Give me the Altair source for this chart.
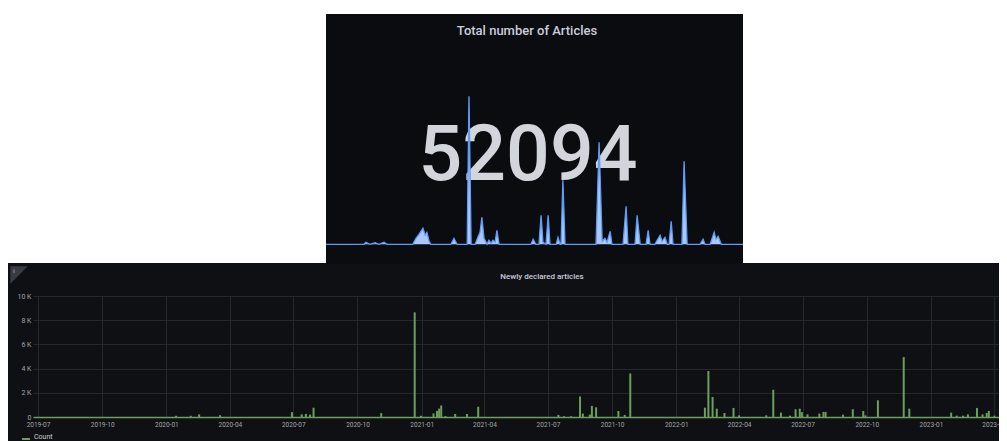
import altair as alt
import pandas as pd

# ---------------- data ----------------
# "Newly declared articles" (bar chart)
bar_dates = [
    "2020-01-15", "2020-02-05", "2020-02-17", "2020-03-18", "2020-06-29",
    "2020-07-13", "2020-07-19", "2020-07-25", "2020-07-30", "2020-11-04",
    "2020-12-22", "2020-12-31", "2021-01-18", "2021-01-23", "2021-01-26",
    "2021-01-29", "2021-02-04", "2021-02-18", "2021-03-07", "2021-03-23",
    "2021-07-16", "2021-07-24", "2021-08-03", "2021-08-16", "2021-08-20",
    "2021-08-30", "2021-09-02", "2021-09-08", "2021-10-10", "2021-10-19",
    "2021-10-27", "2022-02-11", "2022-02-16", "2022-02-22", "2022-02-28",
    "2022-03-11", "2022-03-24", "2022-04-01", "2022-05-10", "2022-05-20",
    "2022-05-31", "2022-06-13", "2022-06-21", "2022-06-27", "2022-06-30",
    "2022-07-08", "2022-07-25", "2022-07-31", "2022-08-03", "2022-08-28",
    "2022-09-11", "2022-09-26", "2022-09-29", "2022-10-17", "2022-11-23",
    "2022-12-01", "2023-01-30", "2023-02-07", "2023-02-16", "2023-02-23",
    "2023-03-08", "2023-03-16", "2023-03-22", "2023-03-25", "2023-04-02",
]
bar_counts = [
    100, 100, 220, 150, 400,
    220, 250, 200, 770, 320,
    8650, 100, 300, 500, 690,
    950, 80, 250, 250, 850,
    170, 60, 60, 1700, 280,
    200, 920, 800, 500, 170,
    3600, 770, 3800, 1650, 690,
    330, 750, 140, 140, 2250,
    360, 110, 640, 690, 400,
    220, 280, 420, 420, 190,
    640, 500, 140, 1380, 4950,
    690, 360, 110, 110, 220,
    750, 220, 330, 500, 110,
]

# "Total number of Articles" sparkline (days since 2019-07-01, value)
spark_days = [
    74, 198, 204, 217, 234, 247, 263, 273, 357, 367, 377, 390, 397, 403, 410,
    416, 481, 491, 501, 534, 540, 547, 560, 569, 576, 582, 589, 599, 605, 612,
    618, 625, 631, 638, 742, 749, 758, 768, 775, 781, 791, 798, 804, 824, 830,
    837, 840, 846, 853, 954, 964, 974, 983, 990, 1000, 1006, 1042, 1052, 1058,
    1081, 1088, 1098, 1117, 1124, 1130, 1146, 1153, 1163, 1169, 1179, 1186,
    1192, 1199, 1205, 1234, 1241, 1251, 1293, 1303, 1309, 1326, 1339, 1345,
    1352, 1362, 1433,
]
spark_counts = [
    0, 0, 117, 0, 88, 0, 117, 0, 0, 350, 584, 934, 526, 700, 175,
    0, 0, 350, 0, 0, 8650, 0, 0, 409, 700, 1577, 350, 0, 234, 58,
    234, 117, 818, 0, 0, 292, 0, 0, 1694, 117, 0, 1694, 0, 0, 409,
    0, 0, 3738, 0, 0, 5957, 175, 350, 117, 759, 0, 0, 2219, 0,
    0, 1694, 0, 0, 818, 0, 0, 234, 526, 175, 409, 0,
    0, 1343, 0, 0, 4847, 0, 0, 292, 0, 0, 700, 292,
    467, 0, 0,
]

total_value = "52094"
top_title = "Total number of Articles"
bottom_title = "Newly declared articles"
legend_label = "Count"
y_ticks = [0, 2000, 4000, 6000, 8000, 10000]

# ---------------- tables ----------------
bars_df = pd.DataFrame({"date": pd.to_datetime(bar_dates), "count": bar_counts})
spark_df = pd.DataFrame({
    "date": pd.Timestamp("2019-07-01") + pd.to_timedelta(spark_days, unit="D"),
    "count": spark_counts,
})

PANEL = "#0f1013"
TOP_PANEL = "#0b0c0f"
GREEN = "#6a9f5c"
TXT = "#ccccdc"
AX = "#a4a6ac"
GRID = "#27282d"
FONT = "Roboto"

W, H = 966, 121


def one(**kw):
    return alt.Chart(pd.DataFrame(kw if kw else {"p": [0]}))


# white strip above the lower panel
white_bg = one().mark_rect(color="white").encode(
    x=alt.value(-25), x2=alt.value(W), y=alt.value(-289), y2=alt.value(-33)
)
# stat panel background
top_bg = one().mark_rect(color=TOP_PANEL).encode(
    x=alt.value(293), x2=alt.value(710), y=alt.value(-282), y2=alt.value(-32)
)

bars = alt.Chart(bars_df).mark_bar(size=2, color=GREEN).encode(
    x=alt.X(
        "date:T",
        scale=alt.Scale(
            domain=[alt.DateTime(year=2019, month=7, date=1),
                    alt.DateTime(year=2023, month=4, date=1, hours=10)],
            nice=False,
        ),
        axis=alt.Axis(
            title=None, format="%Y-%m",
            tickCount={"interval": "month", "step": 3},
            labelFlush=False, labelOverlap=False,
            labelFont=FONT, labelFontSize=6.5, labelColor=AX, labelPadding=4,
            ticks=False, domain=True, domainColor=GREEN, domainWidth=1.5,
            grid=True, gridColor=GRID, gridWidth=1,
        ),
    ),
    y=alt.Y(
        "count:Q",
        scale=alt.Scale(domain=[0, 10000], nice=False),
        axis=alt.Axis(
            title=None, values=y_ticks,
            labelExpr="datum.value == 0 ? '0' : format(datum.value / 1000, 'd') + ' K'",
            labelFont=FONT, labelFontSize=7, labelColor=AX, labelPadding=2,
            ticks=False, domain=False,
            grid=True, gridColor=GRID, gridWidth=1,
        ),
    ),
)

icon = one().mark_point(
    shape="M-1,-1L1,-1L-1,1Z", filled=True, color="#3a3b40", opacity=1, size=300
).encode(x=alt.value(-14), y=alt.value(-21))
icon_text = one(t=["i"]).mark_text(
    font=FONT, fontSize=6, color="#c8c8d0", align="center", baseline="middle"
).encode(text="t:N", x=alt.value(-19), y=alt.value(-25))

title_t = one(t=[top_title]).mark_text(
    font=FONT, fontSize=13, fontWeight=500, color=TXT, align="center", baseline="alphabetic"
).encode(text="t:N", x=alt.value(494), y=alt.value(-261))

big = one(t=[total_value]).mark_text(
    font=FONT, fontSize=77, fontWeight=500, color="#d2d5dc", align="center", baseline="alphabetic"
).encode(text="t:N", x=alt.value(495), y=alt.value(-116))

spark = alt.Chart(spark_df).mark_area(
    line=alt.OverlayMarkDef(color="#5f9cf8", strokeWidth=1.3),
    color="#a9c8fd", opacity=1,
).encode(
    x=alt.X(
        "date:T",
        scale=alt.Scale(
            domain=[alt.DateTime(year=2019, month=9, date=13),
                    alt.DateTime(year=2023, month=6, date=3)],
            range=[293, 710], nice=False,
        ),
        axis=None,
    ),
    y=alt.Y(
        "count:Q",
        scale=alt.Scale(domain=[0, 8650], range=[-51.7, -199.7], nice=False, zero=True),
        axis=None,
    ),
)

title_b = one(t=[bottom_title]).mark_text(
    font=FONT, fontSize=8, fontWeight=500, color=TXT, align="center", baseline="alphabetic"
).encode(text="t:N", x=alt.value(509), y=alt.value(-17))

legend_line = one().mark_rule(color=GREEN, strokeWidth=2).encode(
    x=alt.value(-11), x2=alt.value(-3), y=alt.value(143)
)
legend_text = one(t=[legend_label]).mark_text(
    font=FONT, fontSize=7, color=TXT, align="left", baseline="middle"
).encode(text="t:N", x=alt.value(1), y=alt.value(141))

chart = (
    alt.layer(
        white_bg, top_bg, bars, icon, icon_text, title_t, big, spark, title_b,
        legend_line, legend_text,
    )
    .resolve_scale(x="independent", y="independent")
    .properties(
        width=W, height=H,
        padding={"left": 25, "top": 288, "right": 0, "bottom": 24},
        autosize=alt.AutoSizeParams(type="none"),
        background=PANEL,
    )
    .configure_view(strokeWidth=0)
)

chart.save("out.html", embed_options={"renderer": "svg", "actions": False})
